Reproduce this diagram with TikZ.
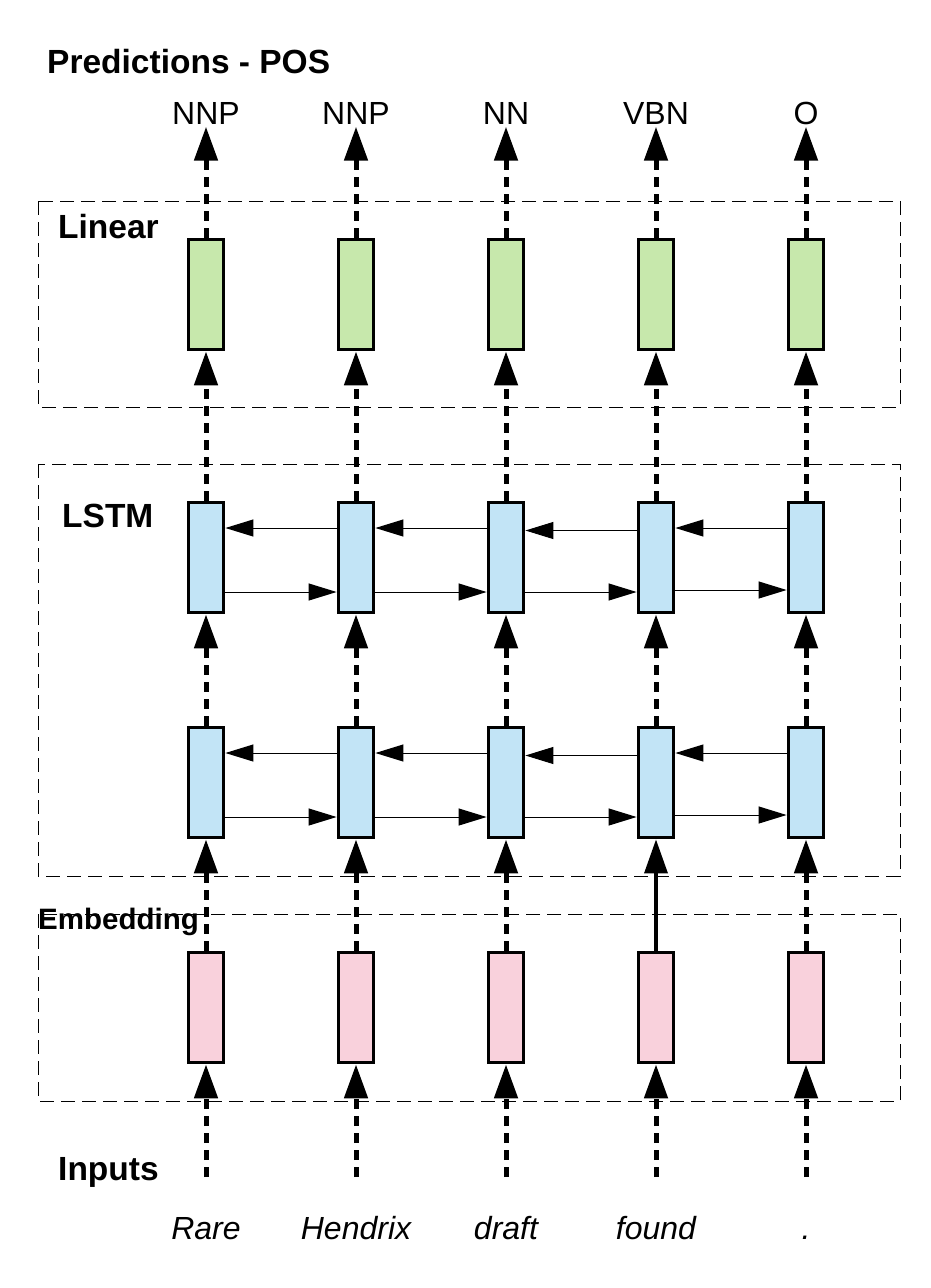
\documentclass[tikz,border=0pt]{standalone}
\usepackage{fontspec}
\setmainfont{Liberation Sans}
\usetikzlibrary{arrows.meta}
\definecolor{lingreen}{HTML}{C7E8AC}
\definecolor{lstmblue}{HTML}{C2E4F6}
\definecolor{embpink}{HTML}{F9D1DC}

\begin{document}
\begin{tikzpicture}
  [x=1pt,y=-1pt,
  cell/.style={draw,line width=3.8pt,minimum width=35pt,minimum height=110pt,inner sep=0pt},
  lin/.style={cell,fill=lingreen},
  lstm/.style={cell,fill=lstmblue},
  emb/.style={cell,fill=embpink},
  layer/.style={line width=0.9pt,dash pattern=on 14pt off 7pt},
  title/.style={font=\bfseries\fontsize{33.5}{40}\selectfont,anchor=west,inner sep=0pt},
  tag/.style={font=\fontsize{32}{38}\selectfont,text height=23pt,text depth=0pt,inner sep=2pt},
  word/.style={font=\itshape\fontsize{32}{38}\selectfont,anchor=base},
  up/.style={line width=5pt,dash pattern=on 10pt off 7pt,-{Triangle[length=34pt,width=23pt]}},
  upsolid/.style={line width=3.5pt,-{Triangle[length=34pt,width=23pt]}},
  side/.style={line width=1pt,-{Triangle[length=28pt,width=17pt]}}]

  \useasboundingbox (0,0) rectangle (930,1288);

  % layer frames
  \draw[layer] (38,201) rectangle (900,407);
  \draw[layer] (38,464) rectangle (900,876);
  \draw[layer] (38,914) rectangle (900,1101);

  \node[title] (predtitle) at (47,62) {Predictions - POS};
  \node[title] (lintitle) at (58,227) {Linear};
  \node[title] (lstmtitle) at (62,516) {LSTM};
  \node[title,font=\bfseries\fontsize{29.5}{35}\selectfont] (embtitle) at (38,922) {Embedding};
  \node[title] (intitle) at (58,1172) {Inputs};

  % predicted tags
  \node[tag] (tag1) at (206,113) {NNP};
  \node[tag] (tag2) at (356,113) {NNP};
  \node[tag] (tag3) at (506,113) {NN};
  \node[tag] (tag4) at (656,113) {VBN};
  \node[tag] (tag5) at (806,113) {O};

  % linear
  \node[lin] (lin1) at (206,294.5) {};
  \node[lin] (lin2) at (356,294.5) {};
  \node[lin] (lin3) at (506,294.5) {};
  \node[lin] (lin4) at (656,294.5) {};
  \node[lin] (lin5) at (806,294.5) {};

  % lstm, upper row
  \node[lstm] (hi1) at (206,557.5) {};
  \node[lstm] (hi2) at (356,557.5) {};
  \node[lstm] (hi3) at (506,557.5) {};
  \node[lstm] (hi4) at (656,557.5) {};
  \node[lstm] (hi5) at (806,557.5) {};

  % lstm, lower row
  \node[lstm] (lo1) at (206,782.5) {};
  \node[lstm] (lo2) at (356,782.5) {};
  \node[lstm] (lo3) at (506,782.5) {};
  \node[lstm] (lo4) at (656,782.5) {};
  \node[lstm] (lo5) at (806,782.5) {};

  % embedding
  \node[emb] (emb1) at (206,1007.5) {};
  \node[emb] (emb2) at (356,1007.5) {};
  \node[emb] (emb3) at (506,1007.5) {};
  \node[emb] (emb4) at (656,1007.5) {};
  \node[emb] (emb5) at (806,1007.5) {};

  % inputs
  \coordinate (in1) at (206,1177);
  \coordinate (in2) at (356,1177);
  \coordinate (in3) at (506,1177);
  \coordinate (in4) at (656,1177);
  \coordinate (in5) at (806,1177);

  \node[word] (word1) at (206,1239) {Rare};
  \node[word] (word2) at (356,1239) {Hendrix};
  \node[word] (word3) at (506,1239) {draft};
  \node[word] (word4) at (656,1239) {found};
  \node[word] (word5) at (806,1239) {.};

  % upward flow
  \draw[up] (lin1) -- (tag1);
  \draw[up] (lin2) -- (tag2);
  \draw[up] (lin3) -- (tag3);
  \draw[up] (lin4) -- (tag4);
  \draw[up] (lin5) -- (tag5);

  \draw[up] (hi1) -- (lin1);
  \draw[up] (hi2) -- (lin2);
  \draw[up] (hi3) -- (lin3);
  \draw[up] (hi4) -- (lin4);
  \draw[up] (hi5) -- (lin5);

  \draw[up] (lo1) -- (hi1);
  \draw[up] (lo2) -- (hi2);
  \draw[up] (lo3) -- (hi3);
  \draw[up] (lo4) -- (hi4);
  \draw[up] (lo5) -- (hi5);

  \draw[up] (emb1) -- (lo1);
  \draw[up] (emb2) -- (lo2);
  \draw[up] (emb3) -- (lo3);
  \draw[upsolid] (emb4) -- (lo4);
  \draw[up] (emb5) -- (lo5);

  \draw[up] (in1) -- (emb1);
  \draw[up] (in2) -- (emb2);
  \draw[up] (in3) -- (emb3);
  \draw[up] (in4) -- (emb4);
  \draw[up] (in5) -- (emb5);

  % backward and forward links, upper row
  \draw[side] ([yshift=29.5pt]hi2.west) -- ([yshift=29.5pt]hi1.east);
  \draw[side] ([yshift=29.5pt]hi3.west) -- ([yshift=29.5pt]hi2.east);
  \draw[side] ([yshift=27pt]hi4.west) -- ([yshift=27pt]hi3.east);
  \draw[side] ([yshift=29.5pt]hi5.west) -- ([yshift=29.5pt]hi4.east);
  \draw[side] ([yshift=-34.5pt]hi1.east) -- ([yshift=-34.5pt]hi2.west);
  \draw[side] ([yshift=-34.5pt]hi2.east) -- ([yshift=-34.5pt]hi3.west);
  \draw[side] ([yshift=-34.5pt]hi3.east) -- ([yshift=-34.5pt]hi4.west);
  \draw[side] ([yshift=-32.5pt]hi4.east) -- ([yshift=-32.5pt]hi5.west);

  % backward and forward links, lower row
  \draw[side] ([yshift=29.5pt]lo2.west) -- ([yshift=29.5pt]lo1.east);
  \draw[side] ([yshift=29.5pt]lo3.west) -- ([yshift=29.5pt]lo2.east);
  \draw[side] ([yshift=27pt]lo4.west) -- ([yshift=27pt]lo3.east);
  \draw[side] ([yshift=29.5pt]lo5.west) -- ([yshift=29.5pt]lo4.east);
  \draw[side] ([yshift=-34.5pt]lo1.east) -- ([yshift=-34.5pt]lo2.west);
  \draw[side] ([yshift=-34.5pt]lo2.east) -- ([yshift=-34.5pt]lo3.west);
  \draw[side] ([yshift=-34.5pt]lo3.east) -- ([yshift=-34.5pt]lo4.west);
  \draw[side] ([yshift=-32.5pt]lo4.east) -- ([yshift=-32.5pt]lo5.west);

\end{tikzpicture}
\end{document}
